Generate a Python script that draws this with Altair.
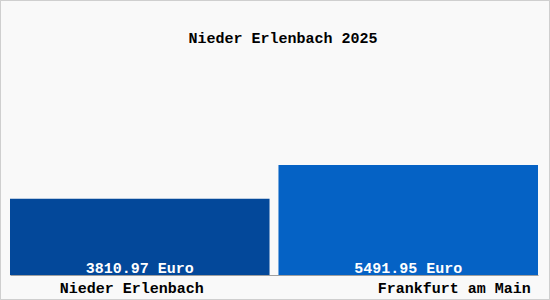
import altair as alt
import pandas as pd

# Average values per area, 2025
places = ["Nieder Erlenbach", "Frankfurt am Main"]
values = [3810.97, 5491.95]
colors = ["#03489a", "#0562c5"]
unit = "Euro"
title = "Nieder Erlenbach 2025"

df = pd.DataFrame({"place": places, "value": values, "color": colors})
df["label"] = [f"{v:.2f} {unit}" for v in values]
df["base"] = 0.0

FONT = "Liberation Mono"
WEIGHT = "bold"

x = alt.X(
    "place:N",
    sort=places,
    scale=alt.Scale(range=[10, 538], paddingInner=0.0333, paddingOuter=0),
    axis=alt.Axis(
        title=None,
        ticks=False,
        domainColor="#a0a0a0",
        domainWidth=1,
        labelFont=FONT,
        labelFontSize=15,
        labelFontWeight=WEIGHT,
        labelColor="#000000",
        labelPadding=5,
        labelAngle=0,
        labelOffset={
            "condition": {"test": "datum.value == 'Frankfurt am Main'", "value": 46},
            "value": -8,
        },
    ),
)
yscale = alt.Scale(domain=[0, 13730], range=[275, 0], nice=False, zero=True)

bars = alt.Chart(df).mark_bar().encode(
    x=x,
    y=alt.Y("value:Q", scale=yscale, axis=None),
    color=alt.Color("color:N", scale=None),
)

labels = alt.Chart(df).mark_text(
    font=FONT, fontSize=15, fontWeight=WEIGHT, color="white",
    baseline="alphabetic", dy=-2
).encode(
    x=alt.X("place:N", sort=places),
    y=alt.Y("base:Q", scale=yscale, axis=None),
    text="label:N",
)

frame = alt.Chart(df).mark_rect(
    fill=None, stroke="#cfcfcf", strokeWidth=1, clip=False
).encode(
    x=alt.value(0.5), x2=alt.value(549.5), y=alt.value(0.5), y2=alt.value(299.5)
)

chart = (
    alt.layer(bars, labels, frame)
    .properties(
        width=550,
        height=275,
        autosize=alt.AutoSizeParams(type="none"),
        padding={"left": 0, "top": 0, "right": 0, "bottom": 25},
        background="#f9f9f9",
        title=alt.TitleParams(
            title,
            font=FONT,
            fontSize=15,
            fontWeight=WEIGHT,
            color="#000000",
            anchor="middle",
            baseline="alphabetic",
            offset=0,
            dy=58,
            dx=8,
        ),
    )
    .configure_view(stroke=None)
)

chart.save("out.html", embed_options={"renderer": "svg", "actions": False})
